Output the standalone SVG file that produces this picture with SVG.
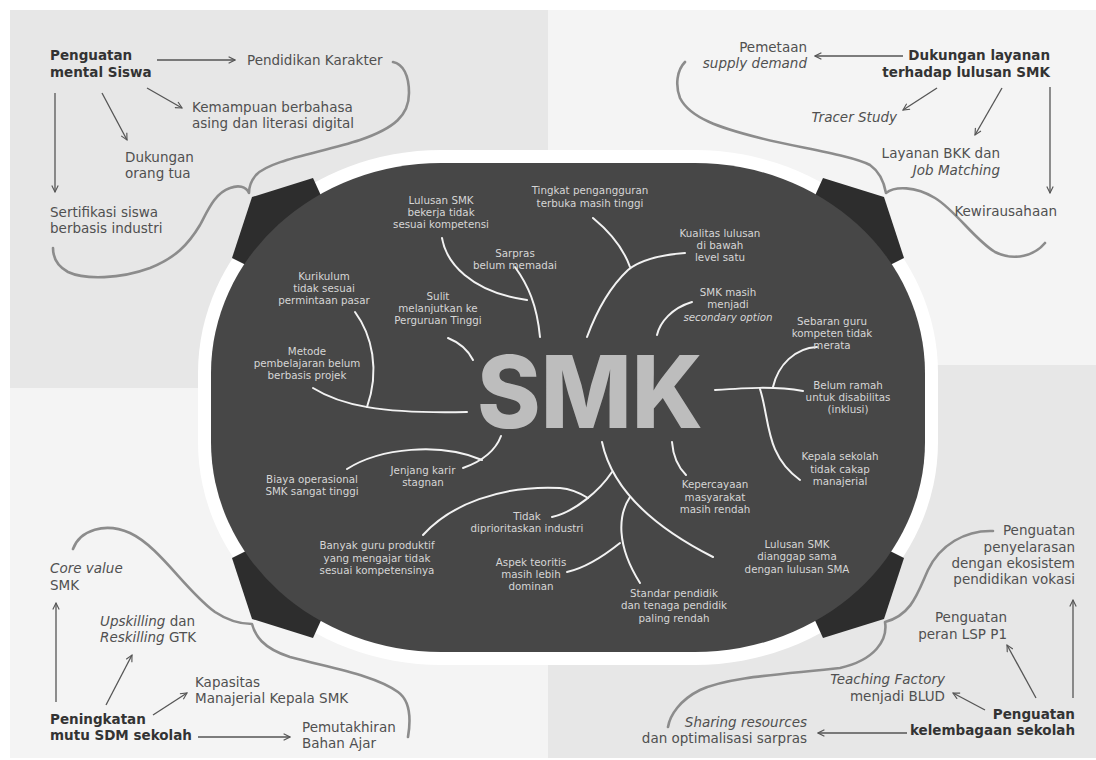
<svg xmlns="http://www.w3.org/2000/svg" width="1096" height="760" viewBox="0 0 1096 760">
<defs>
<style>
.q{font-family:"DejaVu Sans","Liberation Sans",sans-serif;font-size:13.5px;fill:#505050}
.qb{font-family:"DejaVu Sans","Liberation Sans",sans-serif;font-size:13.5px;font-weight:bold;fill:#333}
.i{font-style:italic}
.e{text-anchor:end}
.b{font-family:"DejaVu Sans","Liberation Sans",sans-serif;font-size:10.3px;fill:#d6d6d6;text-anchor:middle}
.ar{fill:none;stroke:#555;stroke-width:1.3;marker-end:url(#ah)}
.br{fill:none;stroke:#8c8c8c;stroke-width:2.6;stroke-linecap:round;stroke-linejoin:round}
.w{fill:none;stroke:#f2f2f2;stroke-width:2;stroke-linecap:round}
.cp{fill:#2d2d2d}
</style>
<marker id="ah" viewBox="0 0 10 10" refX="9" refY="5" markerWidth="8" markerHeight="8" markerUnits="userSpaceOnUse" orient="auto">
<path d="M1,1 L9,5 L1,9" fill="none" stroke="#555" stroke-width="1.4"/>
</marker>
</defs>
<g id="background">
<rect x="0" y="0" width="1096" height="760" fill="#ffffff"/>
<rect x="10" y="10" width="538" height="378" fill="#e7e7e7"/>
<rect x="548" y="10" width="548" height="355" fill="#f4f4f4"/>
<rect x="10" y="388" width="538" height="370" fill="#f4f4f4"/>
<rect x="548" y="365" width="548" height="393" fill="#e7e7e7"/>
</g>
<g id="center">
<rect x="198" y="150" width="740" height="515" rx="243" ry="223" fill="#ffffff"/>
<polygon class="cp" points="313,178 252,197 232,258 262,273 323,200"/>
<polygon class="cp" points="823,178 884,197 904,258 874,273 813,200"/>
<polygon class="cp" points="313,638 252,619 232,558 262,543 323,616"/>
<polygon class="cp" points="823,638 884,619 904,558 874,543 813,616"/>
<rect x="211" y="163" width="714" height="489" rx="230" ry="210" fill="#474747"/>
<text x="590" y="428" font-family="Inter,'DejaVu Sans',sans-serif" font-weight="800" font-size="100" fill="#bdbdbd" text-anchor="middle" textLength="226" lengthAdjust="spacingAndGlyphs">SMK</text>
</g>
<g id="connectors">
<path class="br" d="M393,62 C403,64 409,75 409,93 C409,115 395,128 360,140 C320,153 270,160 256,175 C250,182 249,188 249,193 C246,186 238,185 230,188 C215,193 208,210 200,225 C188,245 175,258 150,268 C120,279 85,280 68,272 C57,266 53,258 53,248"/>
<path class="br" d="M685,62 C677,70 675,85 680,98 C690,118 720,128 760,138 C800,148 850,155 870,165 C880,172 884,182 886,193 C895,186 915,186 935,198 C955,210 975,240 995,252 C1015,262 1035,255 1045,243"/>
<path class="br" d="M73,549 C80,530 105,522 130,533 C160,547 185,590 215,612 C230,622 245,624 252,624 C255,635 262,648 290,657 C330,668 375,675 398,692 C412,702 410,725 408,737"/>
<path class="br" d="M993,531 C965,530 940,545 928,570 C918,592 912,615 885,622 C888,640 875,660 840,668 C790,674 730,676 700,690 C680,700 670,715 668,727"/>
<line class="ar" x1="157" y1="60" x2="235" y2="60"/>
<line class="ar" x1="147" y1="88" x2="182" y2="108"/>
<line class="ar" x1="102" y1="93" x2="127" y2="140"/>
<line class="ar" x1="55" y1="93" x2="55" y2="192"/>
<line class="ar" x1="903" y1="56" x2="815" y2="56"/>
<line class="ar" x1="937" y1="88" x2="903" y2="110"/>
<line class="ar" x1="1002" y1="88" x2="975" y2="135"/>
<line class="ar" x1="1050" y1="87" x2="1050" y2="193"/>
<line class="ar" x1="56" y1="702" x2="56" y2="603"/>
<line class="ar" x1="106" y1="705" x2="132" y2="655"/>
<line class="ar" x1="153" y1="715" x2="187" y2="693"/>
<line class="ar" x1="198" y1="737" x2="290" y2="737"/>
<line class="ar" x1="1073" y1="698" x2="1073" y2="600"/>
<line class="ar" x1="1036" y1="698" x2="1007" y2="645"/>
<line class="ar" x1="985" y1="710" x2="953" y2="693"/>
<line class="ar" x1="907" y1="733" x2="818" y2="733"/>
<path class="w" d="M442,238 C446,262 470,292 527,300"/>
<path class="w" d="M515,267 C528,285 537,305 540,337"/>
<path class="w" d="M448,338 C458,342 468,350 473,360"/>
<path class="w" d="M355,312 C372,335 380,370 367,407"/>
<path class="w" d="M313,388 C340,405 380,414 467,412"/>
<path class="w" d="M593,218 C610,232 624,250 630,267"/>
<path class="w" d="M685,253 C660,255 640,260 628,270 C612,285 597,310 587,337"/>
<path class="w" d="M692,302 C672,308 660,322 657,335"/>
<path class="w" d="M715,390 C745,388 775,386 803,391"/>
<path class="w" d="M773,387 C778,365 795,348 817,347"/>
<path class="w" d="M760,389 C770,420 765,455 800,480"/>
<path class="w" d="M602,442 C610,480 640,520 713,557"/>
<path class="w" d="M612,472 C600,490 575,512 552,517"/>
<path class="w" d="M423,535 C450,505 500,485 560,488 C572,489 580,493 588,498"/>
<path class="w" d="M630,497 C618,515 616,545 640,583"/>
<path class="w" d="M620,543 C605,555 585,568 567,572"/>
<path class="w" d="M672,442 C673,455 678,467 686,475"/>
<path class="w" d="M463,468 C480,462 495,452 501,436"/>
<path class="w" d="M347,469 C380,448 440,442 482,460"/>
</g>
<g id="n-mental">
<text class="qb" x="50" y="60">Penguatan</text>
<text class="qb" x="50" y="77">mental Siswa</text>
<text class="q" x="247" y="65">Pendidikan Karakter</text>
<text class="q" x="192" y="112">Kemampuan berbahasa</text>
<text class="q" x="192" y="128">asing dan literasi digital</text>
<text class="q" x="125" y="162">Dukungan</text>
<text class="q" x="125" y="178">orang tua</text>
<text class="q" x="50" y="217">Sertifikasi siswa</text>
<text class="q" x="50" y="233">berbasis industri</text>
</g>
<g id="n-layanan">
<text class="qb e" x="1050" y="60">Dukungan layanan</text>
<text class="qb e" x="1050" y="77">terhadap lulusan SMK</text>
<text class="q e" x="807" y="52">Pemetaan</text>
<text class="q e i" x="807" y="68">supply demand</text>
<text class="q e i" x="897" y="122">Tracer Study</text>
<text class="q e" x="1000" y="158">Layanan BKK dan</text>
<text class="q e i" x="1000" y="175">Job Matching</text>
<text class="q e" x="1057" y="216">Kewirausahaan</text>
</g>
<g id="n-sdm">
<text class="q i" x="50" y="573">Core value</text>
<text class="q" x="50" y="590">SMK</text>
<text class="q" x="100" y="626"><tspan class="i">Upskilling</tspan> dan</text>
<text class="q" x="100" y="642"><tspan class="i">Reskilling</tspan> GTK</text>
<text class="q" x="195" y="687">Kapasitas</text>
<text class="q" x="195" y="703">Manajerial Kepala SMK</text>
<text class="qb" x="50" y="724">Peningkatan</text>
<text class="qb" x="50" y="740">mutu SDM sekolah</text>
<text class="q" x="302" y="732">Pemutakhiran</text>
<text class="q" x="302" y="748">Bahan Ajar</text>
</g>
<g id="n-lembaga">
<text class="q e" x="1075" y="535">Penguatan</text>
<text class="q e" x="1075" y="552">penyelarasan</text>
<text class="q e" x="1075" y="568">dengan ekosistem</text>
<text class="q e" x="1075" y="584">pendidikan vokasi</text>
<text class="q e" x="1007" y="622">Penguatan</text>
<text class="q e" x="1007" y="639">peran LSP P1</text>
<text class="q e i" x="945" y="684">Teaching Factory</text>
<text class="q e" x="945" y="701">menjadi BLUD</text>
<text class="qb e" x="1075" y="719">Penguatan</text>
<text class="qb e" x="1075" y="735">kelembagaan sekolah</text>
<text class="q e i" x="807" y="727">Sharing resources</text>
<text class="q e" x="807" y="743">dan optimalisasi sarpras</text>
</g>
<g id="issues">
<text class="b" x="441" y="204">Lulusan SMK</text>
<text class="b" x="441" y="216">bekerja tidak</text>
<text class="b" x="441" y="228">sesuai kompetensi</text>
<text class="b" x="590" y="194">Tingkat pengangguran</text>
<text class="b" x="590" y="207">terbuka masih tinggi</text>
<text class="b" x="515" y="257">Sarpras</text>
<text class="b" x="515" y="269">belum memadai</text>
<text class="b" x="720" y="237">Kualitas lulusan</text>
<text class="b" x="720" y="249">di bawah</text>
<text class="b" x="720" y="261">level satu</text>
<text class="b" x="324" y="280">Kurikulum</text>
<text class="b" x="324" y="292">tidak sesuai</text>
<text class="b" x="324" y="304">permintaan pasar</text>
<text class="b" x="438" y="300">Sulit</text>
<text class="b" x="438" y="312">melanjutkan ke</text>
<text class="b" x="438" y="324">Perguruan Tinggi</text>
<text class="b" x="728" y="296">SMK masih</text>
<text class="b" x="728" y="308">menjadi</text>
<text class="b i" x="728" y="321">secondary option</text>
<text class="b" x="832" y="325">Sebaran guru</text>
<text class="b" x="832" y="337">kompeten tidak</text>
<text class="b" x="832" y="349">merata</text>
<text class="b" x="307" y="355">Metode</text>
<text class="b" x="307" y="367">pembelajaran belum</text>
<text class="b" x="307" y="379">berbasis projek</text>
<text class="b" x="848" y="389">Belum ramah</text>
<text class="b" x="848" y="401">untuk disabilitas</text>
<text class="b" x="848" y="413">(inklusi)</text>
<text class="b" x="840" y="460">Kepala sekolah</text>
<text class="b" x="840" y="473">tidak cakap</text>
<text class="b" x="840" y="485">manajerial</text>
<text class="b" x="423" y="474">Jenjang karir</text>
<text class="b" x="423" y="486">stagnan</text>
<text class="b" x="312" y="483">Biaya operasional</text>
<text class="b" x="312" y="495">SMK sangat tinggi</text>
<text class="b" x="715" y="488">Kepercayaan</text>
<text class="b" x="715" y="501">masyarakat</text>
<text class="b" x="715" y="513">masih rendah</text>
<text class="b" x="527" y="520">Tidak</text>
<text class="b" x="527" y="532">diprioritaskan industri</text>
<text class="b" x="377" y="549">Banyak guru produktif</text>
<text class="b" x="377" y="562">yang mengajar tidak</text>
<text class="b" x="377" y="574">sesuai kompetensinya</text>
<text class="b" x="797" y="548">Lulusan SMK</text>
<text class="b" x="797" y="560">dianggap sama</text>
<text class="b" x="797" y="573">dengan lulusan SMA</text>
<text class="b" x="531" y="566">Aspek teoritis</text>
<text class="b" x="531" y="578">masih lebih</text>
<text class="b" x="531" y="590">dominan</text>
<text class="b" x="674" y="597">Standar pendidik</text>
<text class="b" x="674" y="609">dan tenaga pendidik</text>
<text class="b" x="674" y="622">paling rendah</text>
</g>
</svg>
